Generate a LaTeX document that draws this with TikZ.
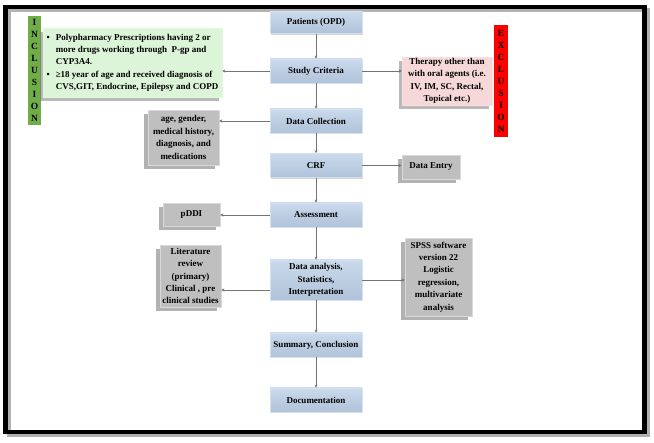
\documentclass[tikz,border=0pt]{standalone}
\usepackage{fontspec}
\setmainfont{Liberation Serif}
\usepackage{xcolor}
\usepackage{tikz}
\usetikzlibrary{arrows.meta,positioning,shadows,calc}
\definecolor{stepblue}{HTML}{B9CDE5}
\definecolor{stepgray}{HTML}{BFBFBF}
\definecolor{incgreen}{HTML}{DCF5D8}
\definecolor{incbar}{HTML}{70AD47}
\definecolor{excpink}{HTML}{F6D8D8}
\definecolor{excbar}{HTML}{FF0000}

\begin{document}
\begin{tikzpicture}[
        x=1pt, y=-1pt,
        every node/.style={font=\fontsize{9}{12.4}\selectfont\bfseries, inner sep=0pt, align=center},
        mainbox/.style={rectangle, minimum width=92pt, minimum height=24pt,
                        top color=stepblue!75!white, bottom color=stepblue!95!black,
                        draw=stepblue!60!white, line width=0.6pt,
                        drop shadow={shadow xshift=1.2pt, shadow yshift=-1.5pt, opacity=.35}},
        sidebox/.style={rectangle, fill=stepgray, draw=stepgray!60!white, line width=0.5pt,
                        drop shadow={shadow xshift=-4pt, shadow yshift=-4pt, opacity=.55, fill=black!55}},
        critbox/.style={rectangle, line width=0.5pt,
                        drop shadow={shadow xshift=-3pt, shadow yshift=-4pt, opacity=.5, fill=black!55}},
        bar/.style={rectangle, font=\fontsize{9.5}{12}\selectfont\bfseries},
        flow/.style={-{Stealth[length=3pt, width=3pt]}, line width=0.6pt, black!55}
    ]
        \useasboundingbox (0,0) rectangle (654,443);

        % frame
        \draw[black!30, line width=4pt] (8.5,10) rectangle (647.5,435);
        \draw[black, line width=4.5pt] (5.5,7) rectangle (644.5,432);

        % main column
        \node[mainbox, minimum height=22pt] (pat) at (316,22.5) {Patients (OPD)};
        \node[mainbox] (crit) at (316,71) {Study Criteria};
        \node[mainbox] (coll) at (316,121) {Data Collection};
        \node[mainbox] (crf) at (316,165.5) {CRF};
        \node[mainbox] (asmt) at (316,215) {Assessment};
        \node[mainbox, minimum height=40pt] (anal) at (316,280) {Data analysis,\\ Statistics,\\ Interpretation};
        \node[mainbox] (summ) at (316,345) {Summary, Conclusion};
        \node[mainbox] (docu) at (316,400) {Documentation};

        % inclusion / exclusion
        \node[bar, fill=incbar, minimum width=13pt, minimum height=109pt] (incbar) at (34.5,70.5)
            {I\\N\\C\\L\\U\\S\\I\\O\\N};
        \node[critbox, fill=incgreen, draw=incgreen!80!white, minimum width=179pt, minimum height=69pt,
              align=left] (inc) at (132.5,62.5)
            {\begin{tabular}{@{}l@{\hspace{6pt}}l@{}}
             \textbullet & Polypharmacy Prescriptions having 2 or\\
                         & more drugs working through\ \ P-gp and\\
                         & CYP3A4.\\
             \textbullet & ≥18 year of age and received diagnosis of\\
                         & CVS,GIT, Endocrine, Epilepsy and COPD
             \end{tabular}};
        \node[critbox, fill=excpink, draw=excpink!80!white, minimum width=90pt, minimum height=48pt] (exc) at (447,81)
            {Therapy other than\\ with oral agents (i.e.\\ IV, IM, SC, Rectal,\\ Topical etc.)};
        \node[bar, fill=excbar, minimum width=14pt, minimum height=112pt] (excbar) at (501,81)
            {E\\X\\C\\L\\U\\S\\I\\O\\N};

        % side boxes
        \node[sidebox, minimum width=71pt, minimum height=55pt] (vars) at (183.5,137.5)
            {age, gender,\\ medical history,\\ diagnosis, and\\ medications};
        \node[sidebox, minimum width=58pt, minimum height=24pt] (entry) at (431,167) {Data Entry};
        \node[sidebox, minimum width=57pt, minimum height=23pt] (pddi) at (191.5,214.5) {pDDI};
        \node[sidebox, minimum width=61pt, minimum height=62pt] (lit) at (190.5,276)
            {Literature\\ review\\ (primary)\\ Clinical , pre\\ clinical studies};
        \node[sidebox, minimum width=67pt, minimum height=78pt] (spss) at (438.5,277)
            {SPSS software\\ version 22\\ Logistic\\ regression,\\ multivariate\\ analysis};

        % down the column
        \draw[flow] (pat) -- (crit);
        \draw[flow] (crit) -- (coll);
        \draw[flow] (coll) -- (crf);
        \draw[flow] (crf) -- (asmt);
        \draw[flow] (asmt) -- (anal);
        \draw[flow] (anal) -- (summ);
        \draw[flow] (summ) -- (docu);

        % out to the sides
        \draw[flow] (crit.west) -- (crit.west -| inc.east);
        \draw[flow] (crit.east) -- (crit.east -| exc.west);
        \draw[flow] (coll.west) -- (coll.west -| vars.east);
        \draw[flow] (crf.east) -- (crf.east -| entry.west);
        \draw[flow] (asmt.west) -- (asmt.west -| pddi.east);
        \draw[flow] ([yshift=-10pt]anal.west) -- ([yshift=-10pt]anal.west -| lit.east);
        \draw[flow] (anal.east) -- (anal.east -| spss.west);
    \end{tikzpicture}
\end{document}
